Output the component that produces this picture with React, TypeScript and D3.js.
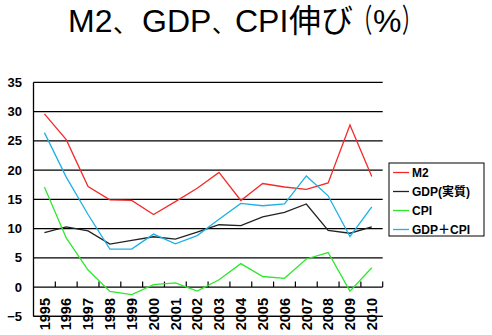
import React from "react";
import * as d3 from "d3";

const years = ["1995","1996","1997","1998","1999","2000","2001","2002","2003","2004","2005","2006","2007","2008","2009","2010"];
const m2 = [29.6, 25.2, 17.2, 14.9, 14.8, 12.4, 14.6, 16.9, 19.6, 14.8, 17.7, 17.1, 16.7, 17.8, 27.7, 18.9];
const gdp = [9.3, 10.3, 9.6, 7.35, 7.97, 8.6, 8.2, 9.4, 10.65, 10.5, 12.0, 12.75, 14.2, 9.7, 9.2, 10.3];
const cpi = [17.1, 8.4, 2.9, -0.75, -1.3, 0.4, 0.7, -0.7, 1.25, 4.0, 1.8, 1.5, 4.8, 5.9, -0.7, 3.3];
const gdpCpi = [26.4, 18.8, 12.4, 6.5, 6.5, 9.05, 7.4, 8.8, 11.6, 14.3, 13.9, 14.2, 19.0, 15.6, 8.65, 13.7];
const yTicks = [35, 30, 25, 20, 15, 10, 5, 0, -5];
const seriesNames = ["M2", "GDP(実質)", "CPI", "GDP＋CPI"];
const seriesColors = ["#f42a2a", "#222222", "#2ee82e", "#1eb0e6"];
const titleParts = ["M2", "、", "GDP", "、", "CPI", "伸び", "（", "%", "）"];
const titleX = [68, 113, 142, 212, 235, 289, 353, 373, 402];
const titleSize = [32, 25, 32, 23, 32, 32, 32, 32, 32];
const titleScaleX = [1, 1, 1, 1, 1, 1, 0.6, 1, 0.6];

const W = 492, H = 335;
const left = 33.5, right = 382.7, top = 82.3, bottom = 316.3;
const FONT = "'Liberation Sans', Arial, 'Noto Sans CJK JP', sans-serif";

export default function App() {
  const x = d3.scaleBand<string>().domain(years).range([left, right]).padding(0);
  const y = d3.scaleLinear().domain([-5, 35]).range([bottom, top]);
  const line = d3.line<number>()
    .x((_, i) => (x(years[i]) as number) + x.bandwidth() / 2)
    .y((d) => y(d));
  const all = [m2, gdp, cpi, gdpCpi];
  const legendX = 389, legendY = 163;
  return (
    <svg width={W} height={H} style={{ position: "absolute", left: 0, top: 0, background: "#fff" }} fontFamily={FONT}>
      <g>
        {titleParts.map((p, i) => (
          <text key={i} transform={`translate(${titleX[i]},32) scale(${titleScaleX[i]},1)`} fontSize={titleSize[i]} fill="#000">{p}</text>
        ))}
      </g>
      {yTicks.map((t) => (
        <g key={t}>
          <line x1={left} x2={right} y1={y(t)} y2={y(t)} stroke="#000" strokeWidth={1.3} />
          <text x={22} y={y(t)} dy="0.36em" textAnchor="end" fontSize={13} fontWeight="bold" fill="#000">{t < 0 ? "−" + Math.abs(t) : t}</text>
        </g>
      ))}
      <line x1={left} x2={left} y1={top} y2={bottom} stroke="#000" strokeWidth={1.3} />
      {years.map((yr) => (
        <line key={"tk" + yr} x1={(x(yr) as number) + x.bandwidth()} x2={(x(yr) as number) + x.bandwidth()} y1={y(0)} y2={y(0) - 5.5} stroke="#000" strokeWidth={1.2} />
      ))}
      {years.map((yr) => {
        const cx = (x(yr) as number) + x.bandwidth() / 2;
        return (
          <text key={"lb" + yr} transform={`translate(${cx},298) rotate(-90)`} textAnchor="end" dy="0.36em" fontSize={14.5} fontWeight="bold" fill="#000">{yr}</text>
        );
      })}
      <line x1={left} x2={right} y1={y(-5)} y2={y(-5)} stroke="#000" strokeWidth={1.3} />
      {all.map((s, k) => (
        <path key={"s" + k} d={line(s) as string} fill="none" stroke={seriesColors[k]} strokeWidth={1.3} />
      ))}
      <rect x={legendX} y={legendY} width={95} height={73} fill="#fff" stroke="#000" strokeWidth={1} />
      {seriesNames.map((n, k) => {
        const ly = legendY + 9.5 + k * 19;
        return (
          <g key={"lg" + k}>
            <line x1={legendX + 4} x2={legendX + 20} y1={ly} y2={ly} stroke={seriesColors[k]} strokeWidth={1.3} />
            <text x={legendX + 23} y={ly} dy="0.36em" fontSize={12} fontWeight="bold" fill="#000">{n}</text>
          </g>
        );
      })}
    </svg>
  );
}
